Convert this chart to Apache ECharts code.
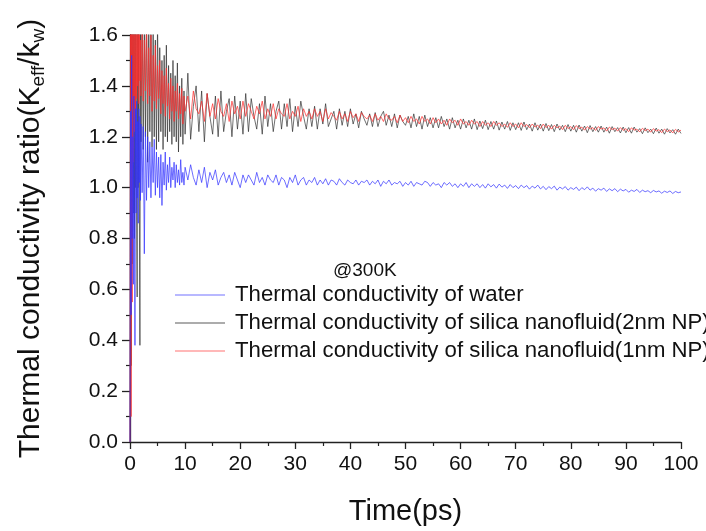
<!DOCTYPE html>
<html lang="en">
<head>
<meta charset="UTF-8">
<title>Thermal conductivity ratio</title>
<style>
    * { margin: 0; padding: 0; }
    #chart { width: 706px; height: 531px; background: #fff; }
</style>
<script src="https://cdn.jsdelivr.net/npm/echarts@6/dist/echarts.min.js"></script>
</head>
<body>
<div id="chart"></div>
<script>
// time samples (ps)
var times = [
    0, 0.1, 0.2, 0.3, 0.4, 0.5, 0.6, 0.7, 0.8, 0.9, 1, 1.1, 1.2, 1.3, 1.4, 1.5, 1.6, 1.7, 1.8, 1.9, 2,
    2.2, 2.4, 2.6, 2.8, 3, 3.2, 3.4, 3.6, 3.8, 4,
    4.2, 4.4, 4.6, 4.8, 5, 5.2, 5.4, 5.6, 5.8, 6,
    6.2, 6.4, 6.6, 6.8, 7, 7.2, 7.4, 7.6, 7.8, 8,
    8.2, 8.4, 8.6, 8.8, 9, 9.2, 9.4, 9.6, 9.8, 10,
    10.5, 11, 11.5, 12, 12.5, 13, 13.5, 14, 14.5, 15,
    15.5, 16, 16.5, 17, 17.5, 18, 18.5, 19, 19.5, 20,
    20.5, 21, 21.5, 22, 22.5, 23, 23.5, 24, 24.5, 25,
    25.5, 26, 26.5, 27, 27.5, 28, 28.5, 29, 29.5, 30,
    30.5, 31, 31.5, 32, 32.5, 33, 33.5, 34, 34.5, 35,
    35.5, 36, 36.5, 37, 37.5, 38, 38.5, 39, 39.5, 40,
    40.5, 41, 41.5, 42, 42.5, 43, 43.5, 44, 44.5, 45,
    45.5, 46, 46.5, 47, 47.5, 48, 48.5, 49, 49.5, 50,
    50.5, 51, 51.5, 52, 52.5, 53, 53.5, 54, 54.5, 55,
    55.5, 56, 56.5, 57, 57.5, 58, 58.5, 59, 59.5, 60,
    60.5, 61, 61.5, 62, 62.5, 63, 63.5, 64, 64.5, 65,
    65.5, 66, 66.5, 67, 67.5, 68, 68.5, 69, 69.5, 70,
    70.5, 71, 71.5, 72, 72.5, 73, 73.5, 74, 74.5, 75,
    75.5, 76, 76.5, 77, 77.5, 78, 78.5, 79, 79.5, 80,
    80.5, 81, 81.5, 82, 82.5, 83, 83.5, 84, 84.5, 85,
    85.5, 86, 86.5, 87, 87.5, 88, 88.5, 89, 89.5, 90,
    90.5, 91, 91.5, 92, 92.5, 93, 93.5, 94, 94.5, 95,
    95.5, 96, 96.5, 97, 97.5, 98, 98.5, 99, 99.5, 100
];

// water
var water = [
    0.00, 1.30, 0.50, 1.52, 0.80, 1.20, 0.62, 1.36, 0.92, 0.38, 1.31, 0.90, 1.34, 0.96, 1.26, 0.86, 1.31, 1.02, 1.28, 0.95, 1.25,
    0.98, 1.24, 0.74, 1.22, 0.95, 1.20, 1.00, 1.18, 0.96, 1.16,
    1.02, 1.19, 0.97, 1.14, 1.00, 1.12, 0.96, 1.13, 0.93, 1.10,
    1.01, 1.14, 0.99, 1.09, 1.02, 1.12, 1.00, 1.08, 1.03, 1.10,
    1.00, 1.09, 1.02, 1.07, 1.01, 1.11, 1.02, 1.06, 1.01, 1.08,
    1.03, 1.09, 1.04, 1.01, 1.07, 1.02, 1.08, 1.00, 1.06, 1.03,
    1.07, 1.01, 1.04, 1.06, 1.02, 1.05, 1.01, 1.06, 1.03, 1.00,
    1.05, 1.02, 1.05, 1.03, 1.01, 1.06, 1.02, 1.04, 1.01, 1.05,
    1.03, 1.02, 1.05, 1.01, 1.04, 1.03, 1.00, 1.04, 1.02, 1.05,
    1.01, 1.03, 1.04, 1.01, 1.03, 1.02, 1.04, 1.01, 1.03, 1.015,
    1.035, 1.01, 1.03, 1.025, 1.01, 1.035, 1.02, 1.01, 1.03, 1.02,
    1.015, 1.03, 1.01, 1.025, 1.02, 1.03, 1.01, 1.025, 1.015, 1.03,
    1.005, 1.025, 1.015, 1.03, 1.01, 1.02, 1.015, 1.025, 1.005, 1.02,
    1.01, 1.025, 1.005, 1.02, 1.015, 1.01, 1.025, 1.02, 1.005, 1.02,
    1.01, 1.015, 1.00, 1.02, 1.01, 1.02, 1.005, 1.015, 1.00, 1.015,
    1.005, 1.02, 1.00, 1.015, 1.005, 1.015, 1.00, 1.012, 0.998, 1.015,
    1.003, 1.012, 0.998, 1.014, 1.002, 1.01, 0.997, 1.012, 1.00, 1.008,
    0.996, 1.01, 1.00, 1.008, 0.994, 1.006, 0.998, 1.01, 0.995, 1.005,
    0.992, 1.004, 0.996, 1.006, 0.99, 1.002, 0.995, 1.004, 0.99, 1.00,
    0.993, 1.002, 0.988, 1.00, 0.992, 1.003, 0.99, 0.998, 0.986, 0.996,
    0.99, 0.998, 0.985, 0.995, 0.988, 0.996, 0.984, 0.994, 0.987, 0.993,
    0.982, 0.99, 0.985, 0.993, 0.981, 0.99, 0.984, 0.988, 0.98, 0.989,
    0.983, 0.987, 0.978, 0.986, 0.981, 0.987, 0.977, 0.985, 0.98, 0.983
];

// silica nanofluid, 2nm NP
var np2 = [
    0.00, 1.70, 0.30, 1.90, 0.70, 1.80, 0.90, 1.70, 0.80, 1.75, 1.00, 1.70, 0.90, 0.57, 1.72, 1.00, 1.76, 0.92, 0.38, 1.66, 1.18,
    1.70, 1.15, 1.65, 1.20, 1.72, 1.10, 1.68, 1.22, 1.66, 1.16,
    1.62, 1.20, 1.58, 1.15, 1.65, 1.18, 1.55, 1.22, 1.50, 1.15,
    1.52, 1.20, 1.56, 1.18, 1.48, 1.22, 1.45, 1.17, 1.50, 1.20,
    1.44, 1.18, 1.49, 1.14, 1.40, 1.20, 1.43, 1.17, 1.38, 1.21,
    1.45, 1.19, 1.32, 1.40, 1.22, 1.38, 1.18, 1.37, 1.28, 1.21,
    1.36, 1.20, 1.38, 1.22, 1.30, 1.35, 1.20, 1.36, 1.23, 1.34,
    1.21, 1.37, 1.22, 1.35, 1.28, 1.23, 1.33, 1.21, 1.36, 1.24,
    1.33, 1.22, 1.30, 1.34, 1.23, 1.33, 1.24, 1.35, 1.22, 1.32,
    1.24, 1.34, 1.28, 1.23, 1.31, 1.24, 1.32, 1.23, 1.31, 1.25,
    1.33, 1.24, 1.27, 1.30, 1.23, 1.31, 1.245, 1.30, 1.24, 1.31,
    1.25, 1.29, 1.235, 1.30, 1.27, 1.245, 1.29, 1.24, 1.295, 1.24,
    1.28, 1.30, 1.245, 1.285, 1.24, 1.29, 1.235, 1.285, 1.26, 1.245,
    1.28, 1.235, 1.29, 1.24, 1.28, 1.23, 1.285, 1.24, 1.275, 1.235,
    1.275, 1.235, 1.28, 1.24, 1.27, 1.23, 1.275, 1.235, 1.265, 1.23,
    1.27, 1.235, 1.265, 1.23, 1.27, 1.228, 1.262, 1.232, 1.265, 1.228,
    1.26, 1.23, 1.262, 1.226, 1.258, 1.23, 1.26, 1.225, 1.255, 1.228,
    1.255, 1.225, 1.258, 1.228, 1.25, 1.222, 1.255, 1.226, 1.25, 1.222,
    1.252, 1.224, 1.248, 1.22, 1.25, 1.226, 1.245, 1.22, 1.248, 1.222,
    1.245, 1.218, 1.246, 1.222, 1.242, 1.216, 1.244, 1.22, 1.24, 1.218,
    1.242, 1.218, 1.238, 1.214, 1.24, 1.22, 1.236, 1.215, 1.238, 1.216,
    1.236, 1.214, 1.238, 1.218, 1.232, 1.212, 1.235, 1.216, 1.23, 1.212,
    1.234, 1.214, 1.23, 1.21, 1.232, 1.215, 1.228, 1.21, 1.23, 1.213,
    1.228, 1.21, 1.23, 1.214, 1.226, 1.208, 1.228, 1.212, 1.225, 1.21
];

// silica nanofluid, 1nm NP
var np1 = [
    0.00, 1.90, 0.10, 1.80, 0.55, 1.72, 1.10, 1.66, 1.22, 1.62, 1.30, 1.70, 1.35, 1.62, 1.40, 1.75, 1.33, 1.64, 1.42, 1.58, 1.36,
    1.62, 1.34, 1.58, 1.38, 1.64, 1.33, 1.55, 1.36, 1.60, 1.30,
    1.52, 1.34, 1.56, 1.31, 1.48, 1.35, 1.50, 1.29, 1.46, 1.33,
    1.44, 1.28, 1.47, 1.32, 1.41, 1.27, 1.43, 1.30, 1.40, 1.26,
    1.38, 1.30, 1.41, 1.27, 1.37, 1.29, 1.39, 1.25, 1.36, 1.30,
    1.36, 1.27, 1.38, 1.31, 1.29, 1.34, 1.26, 1.37, 1.28, 1.33,
    1.27, 1.35, 1.30, 1.28, 1.33, 1.26, 1.34, 1.29, 1.32, 1.27,
    1.34, 1.28, 1.33, 1.30, 1.27, 1.32, 1.29, 1.34, 1.27, 1.31,
    1.28, 1.33, 1.27, 1.31, 1.29, 1.28, 1.33, 1.27, 1.30, 1.28,
    1.32, 1.26, 1.31, 1.28, 1.30, 1.27, 1.31, 1.28, 1.30, 1.26,
    1.31, 1.27, 1.295, 1.28, 1.265, 1.30, 1.27, 1.29, 1.26, 1.30,
    1.275, 1.29, 1.26, 1.295, 1.28, 1.27, 1.285, 1.26, 1.29, 1.265,
    1.28, 1.26, 1.29, 1.27, 1.265, 1.28, 1.255, 1.285, 1.26, 1.275,
    1.255, 1.28, 1.26, 1.27, 1.25, 1.28, 1.26, 1.27, 1.25, 1.275,
    1.255, 1.27, 1.25, 1.265, 1.245, 1.27, 1.255, 1.265, 1.245, 1.27,
    1.25, 1.26, 1.245, 1.265, 1.25, 1.26, 1.24, 1.26, 1.245, 1.255,
    1.24, 1.26, 1.245, 1.255, 1.24, 1.25, 1.237, 1.255, 1.24, 1.25,
    1.235, 1.255, 1.24, 1.248, 1.236, 1.25, 1.238, 1.246, 1.232, 1.25,
    1.236, 1.245, 1.23, 1.245, 1.235, 1.242, 1.228, 1.245, 1.232, 1.24,
    1.228, 1.244, 1.232, 1.238, 1.226, 1.24, 1.23, 1.236, 1.225, 1.24,
    1.23, 1.235, 1.222, 1.238, 1.228, 1.234, 1.222, 1.236, 1.225, 1.232,
    1.22, 1.235, 1.226, 1.23, 1.219, 1.233, 1.224, 1.23, 1.218, 1.232,
    1.222, 1.228, 1.216, 1.23, 1.22, 1.227, 1.215, 1.229, 1.219, 1.226
];

var names = [
    'Thermal conductivity of water',
    'Thermal conductivity of silica nanofluid(2nm NP)',
    'Thermal conductivity of silica nanofluid(1nm NP)'
];

function pairs(vals) {
    return times.map(function (t, i) { return [t, vals[i]]; });
}

var chart = echarts.init(document.getElementById('chart'));
var font = 'Liberation Sans, Arial, sans-serif';

var option = {
    animation: false,
    backgroundColor: '#fff',
    textStyle: { fontFamily: font },
    title: {
        text: '@300K',
        left: 328,
        top: 256,
        textStyle: { fontSize: 19, fontWeight: 'normal', color: '#111', fontFamily: font }
    },
    legend: {
        orient: 'vertical',
        left: 170, // legend has 5px padding
        top: 279,
        itemWidth: 50,
        itemHeight: 1.5,
        itemGap: 6,
        icon: 'rect',
        textStyle: { fontSize: 22.2, lineHeight: 22, color: '#111', padding: [0, 0, 0, 5] },
        data: [
            { name: names[0], itemStyle: { color: '#a0a0ff' } },
            { name: names[1], itemStyle: { color: '#909090' } },
            { name: names[2], itemStyle: { color: '#ffa0a0' } }
        ]
    },
    grid: { left: 130, right: 25, top: 35, bottom: 84 },
    xAxis: {
        type: 'value',
        min: 0,
        max: 100,
        interval: 10,
        name: 'Time(ps)',
        nameLocation: 'middle',
        nameGap: 55,
        nameTextStyle: { fontSize: 29, color: '#111' },
        axisLine: { onZero: false, lineStyle: { color: '#222', width: 1.3 } },
        axisTick: { inside: false, length: 7, lineStyle: { color: '#222', width: 1.3 } },
        minorTick: { show: true, splitNumber: 2, length: 4, lineStyle: { color: '#222', width: 1.2 } },
        axisLabel: { fontSize: 21, color: '#111', margin: 12 },
        splitLine: { show: false }
    },
    yAxis: {
        type: 'value',
        min: 0,
        max: 1.6,
        interval: 0.2,
        name: '{m|Thermal conductivity ratio(K}{s|eff}{m|/k}{s|w}{m|)}',
        nameLocation: 'middle',
        nameGap: 82,
        nameTextStyle: {
            color: '#111',
            rich: {
                m: { fontSize: 30, lineHeight: 34, color: '#111', fontFamily: font },
                s: { fontSize: 19, lineHeight: 14, verticalAlign: 'bottom', color: '#111', fontFamily: font }
            }
        },
        axisLine: { show: true, onZero: false, lineStyle: { color: '#222', width: 1.3 } },
        axisTick: { show: true, inside: false, length: 8, lineStyle: { color: '#222', width: 1.3 } },
        minorTick: { show: true, splitNumber: 2, length: 4, lineStyle: { color: '#222', width: 1.2 } },
        axisLabel: {
            fontSize: 21,
            color: '#111',
            margin: 12,
            formatter: function (v) { return v.toFixed(1); }
        },
        splitLine: { show: false }
    },
    series: [
        {
            name: names[1],
            type: 'line',
            data: pairs(np2),
            symbol: 'none',
            lineStyle: { color: '#2a2a2a', width: 0.9, opacity: 0.75 },
            itemStyle: { color: '#2a2a2a' },
            z: 2
        },
        {
            name: names[2],
            type: 'line',
            data: pairs(np1),
            symbol: 'none',
            lineStyle: { color: '#ff3030', width: 0.9, opacity: 0.8 },
            itemStyle: { color: '#ff3030' },
            z: 3
        },
        {
            name: names[0],
            type: 'line',
            data: pairs(water),
            symbol: 'none',
            lineStyle: { color: '#3535ff', width: 0.9, opacity: 0.8 },
            itemStyle: { color: '#3535ff' },
            z: 4
        }
    ]
};

chart.setOption(option);
</script>
</body>
</html>
